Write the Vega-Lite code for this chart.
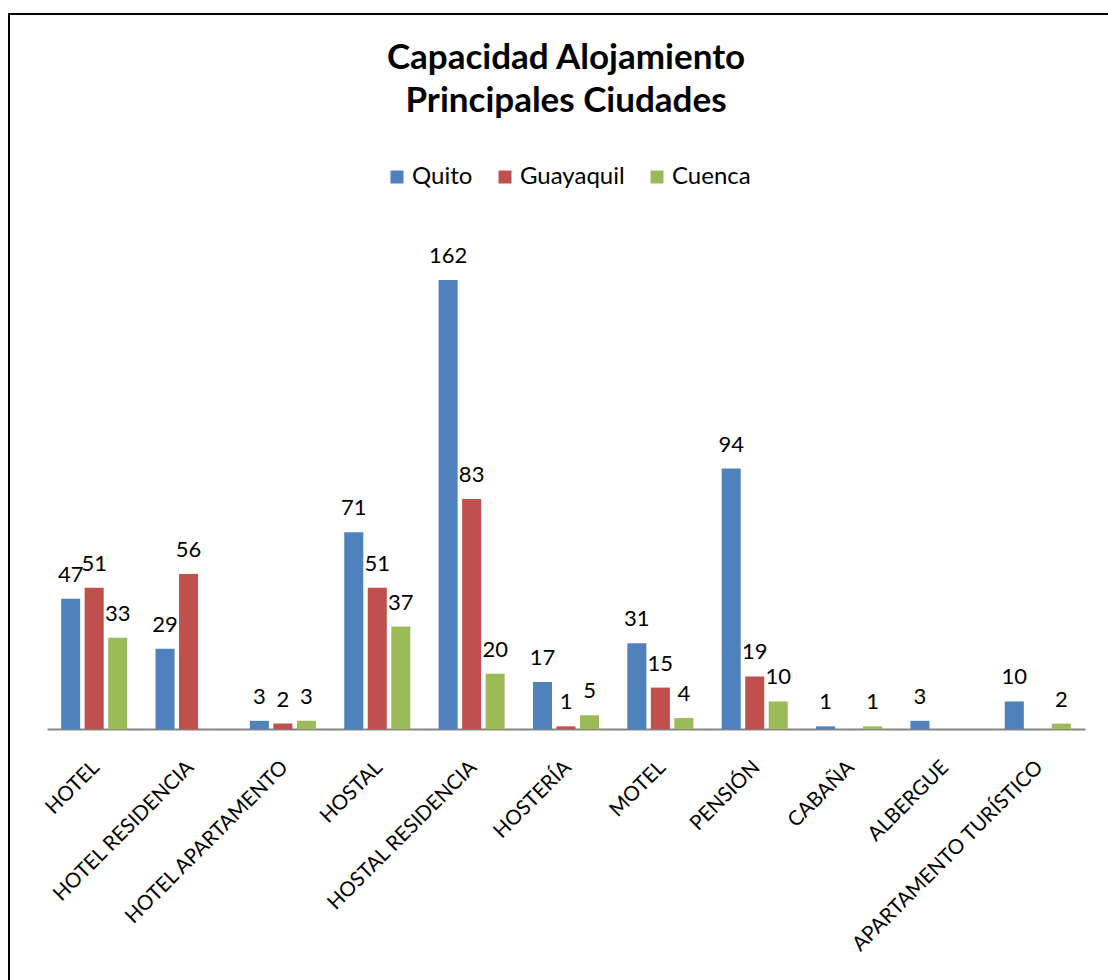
{
  "$schema": "https://vega.github.io/schema/vega-lite/v6.json",
  "autosize": {"type": "none"},
  "padding": {"left": 9, "top": 14, "right": 0, "bottom": 0},
  "width": 1099,
  "height": 966,
  "background": "white",
  "config": {
    "font": "Lato",
    "view": {"stroke": "black", "strokeWidth": 2, "strokeDash": [1099, 2065, 966]}
  },
  "title": {
    "text": ["Capacidad Alojamiento", "Principales Ciudades"],
    "font": "Lato",
    "fontSize": 35,
    "fontWeight": "bold",
    "color": "black",
    "anchor": "middle",
    "frame": "group",
    "orient": "top",
    "offset": -133,
    "lineHeight": 43,
    "dx": 7.5,
    "baseline": "alphabetic"
  },
  "data": {
    "values": [
      {"tipo": "HOTEL", "ciudad": "Quito", "valor": 47},
      {"tipo": "HOTEL", "ciudad": "Guayaquil", "valor": 51},
      {"tipo": "HOTEL", "ciudad": "Cuenca", "valor": 33},
      {"tipo": "HOTEL RESIDENCIA", "ciudad": "Quito", "valor": 29},
      {"tipo": "HOTEL RESIDENCIA", "ciudad": "Guayaquil", "valor": 56},
      {"tipo": "HOTEL APARTAMENTO", "ciudad": "Quito", "valor": 3},
      {"tipo": "HOTEL APARTAMENTO", "ciudad": "Guayaquil", "valor": 2},
      {"tipo": "HOTEL APARTAMENTO", "ciudad": "Cuenca", "valor": 3},
      {"tipo": "HOSTAL", "ciudad": "Quito", "valor": 71},
      {"tipo": "HOSTAL", "ciudad": "Guayaquil", "valor": 51},
      {"tipo": "HOSTAL", "ciudad": "Cuenca", "valor": 37},
      {"tipo": "HOSTAL RESIDENCIA", "ciudad": "Quito", "valor": 162},
      {"tipo": "HOSTAL RESIDENCIA", "ciudad": "Guayaquil", "valor": 83},
      {"tipo": "HOSTAL RESIDENCIA", "ciudad": "Cuenca", "valor": 20},
      {"tipo": "HOSTERÍA", "ciudad": "Quito", "valor": 17},
      {"tipo": "HOSTERÍA", "ciudad": "Guayaquil", "valor": 1},
      {"tipo": "HOSTERÍA", "ciudad": "Cuenca", "valor": 5},
      {"tipo": "MOTEL", "ciudad": "Quito", "valor": 31},
      {"tipo": "MOTEL", "ciudad": "Guayaquil", "valor": 15},
      {"tipo": "MOTEL", "ciudad": "Cuenca", "valor": 4},
      {"tipo": "PENSIÓN", "ciudad": "Quito", "valor": 94},
      {"tipo": "PENSIÓN", "ciudad": "Guayaquil", "valor": 19},
      {"tipo": "PENSIÓN", "ciudad": "Cuenca", "valor": 10},
      {"tipo": "CABAÑA", "ciudad": "Quito", "valor": 1},
      {"tipo": "CABAÑA", "ciudad": "Cuenca", "valor": 1},
      {"tipo": "ALBERGUE", "ciudad": "Quito", "valor": 3},
      {"tipo": "APARTAMENTO TURÍSTICO", "ciudad": "Quito", "valor": 10},
      {"tipo": "APARTAMENTO TURÍSTICO", "ciudad": "Cuenca", "valor": 2}
    ]
  },
  "encoding": {
    "x": {
      "field": "tipo",
      "type": "nominal",
      "sort": null,
      "scale": {"range": [38, 1076], "paddingInner": 0.3, "paddingOuter": 0.15},
      "axis": {
        "title": null,
        "orient": "bottom",
        "offset": -251,
        "labelAngle": -45,
        "labelAlign": "right",
        "labelBaseline": "middle",
        "labelFont": "Lato",
        "labelFontSize": 20.5,
        "labelColor": "black",
        "labelPadding": 35,
        "labelOffset": 2,
        "ticks": false,
        "tickSize": 0,
        "domainColor": "#868686",
        "domainWidth": 2,
        "labelLimit": 0,
        "labelOverlap": false,
        "grid": false
      }
    },
    "xOffset": {
      "field": "ciudad",
      "type": "nominal",
      "sort": ["Quito", "Guayaquil", "Cuenca"],
      "scale": {"domain": ["Quito", "Guayaquil", "Cuenca"], "paddingInner": 0.19, "paddingOuter": 0}
    },
    "y": {
      "field": "valor",
      "type": "quantitative",
      "scale": {"domain": [-90.5, 258], "nice": false, "zero": false},
      "axis": null
    }
  },
  "layer": [
    {
      "mark": {"type": "bar"},
      "encoding": {
        "color": {
          "field": "ciudad",
          "type": "nominal",
          "scale": {"domain": ["Quito", "Guayaquil", "Cuenca"], "range": ["#4F81BD", "#C0504D", "#9BBB59"]},
          "legend": {
            "title": null,
            "orient": "none",
            "legendX": 376,
            "legendY": 151,
            "direction": "horizontal",
            "symbolType": "square",
            "symbolSize": 169,
            "symbolStrokeWidth": 0,
            "labelFont": "Lato",
            "labelFontSize": 24,
            "labelColor": "black",
            "labelOffset": 3,
            "columnPadding": 20,
            "padding": 0
          }
        }
      }
    },
    {
      "mark": {"type": "text", "dy": -17, "baseline": "alphabetic", "fontSize": 22, "font": "Lato", "color": "black"},
      "encoding": {"text": {"field": "valor", "type": "quantitative"}}
    }
  ]
}
